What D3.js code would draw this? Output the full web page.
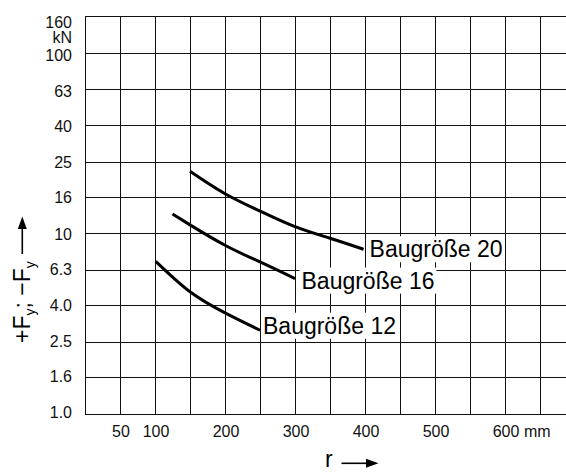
<!DOCTYPE html>
<html lang="de">
<head>
<meta charset="utf-8" />
<title>Baugröße</title>
<script src="https://d3js.org/d3.v7.min.js"></script>
<style>
  body { margin: 0; background: #fff; }
  svg { display: block; font-family: "Liberation Sans", Arial, sans-serif; }
  .grid line { stroke: #111; stroke-width: 1.3; shape-rendering: crispEdges; }
  .tick-label { font-size: 16px; fill: #111; }
  .curve { fill: none; stroke: #000; stroke-width: 3; }
  .size-label { font-size: 23px; fill: #000; }
</style>
</head>
<body>
<svg id="chart" width="566" height="474"></svg>
<script>
// grid and tick values
var xGridValues = d3.range(0, 701, 50);
var xTickLabels = [50, 100, 200, 300, 400, 500, 600];
var yTickValues = [1.0, 1.6, 2.5, 4.0, 6.3, 10, 16, 25, 40, 63, 100, 160];
var yTickLabels = ["1.0", "1.6", "2.5", "4.0", "6.3", "10", "16", "25", "40", "63", "100", "160"];

// curves: r in mm, force in kN
var sizeNames = ["Baugröße 12", "Baugröße 16", "Baugröße 20"];
var r12 = [101, 150, 200, 250];
var f12 = [7.0, 4.75, 3.63, 2.91];
var r16 = [125, 150, 200, 250, 300];
var f16 = [12.8, 11.15, 8.6, 6.95, 5.62];
var r20 = [150, 200, 250, 300, 350, 398];
var f20 = [22.1, 16.6, 13.3, 10.9, 9.4, 8.17];

var svg = d3.select("#chart");

var x = d3.scaleLinear().domain([0, 700]).range([85, 575]);
var y = d3.scaleLog().domain([1, 160]).range([414, 16]);
// labels on the y axis sit on a slightly tighter spacing than the grid
var yLab = d3.scaleLog().domain([1, 100]).range([418.3, 60.7]);

// grid
var grid = svg.append("g").attr("class", "grid");
grid.selectAll("line.v")
  .data(xGridValues)
  .enter().append("line")
  .attr("x1", function(d) { return Math.round(x(d)) + 0.5; })
  .attr("x2", function(d) { return Math.round(x(d)) + 0.5; })
  .attr("y1", y(160))
  .attr("y2", y(1));
grid.selectAll("line.h")
  .data(yTickValues)
  .enter().append("line")
  .attr("x1", x(0))
  .attr("x2", x(700))
  .attr("y1", function(d) { return Math.round(y(d)) + 0.5; })
  .attr("y2", function(d) { return Math.round(y(d)) + 0.5; });

// y tick labels
svg.append("g").selectAll("text")
  .data(yTickValues)
  .enter().append("text")
  .attr("class", "tick-label")
  .attr("text-anchor", "end")
  .attr("x", 72)
  .attr("y", function(d) { return d === 160 ? 27.8 : yLab(d); })
  .text(function(d, i) { return yTickLabels[i]; });
svg.append("text")
  .attr("class", "tick-label")
  .attr("text-anchor", "end")
  .attr("x", 72)
  .attr("y", 43)
  .text("kN");

// x tick labels
svg.append("g").selectAll("text")
  .data(xTickLabels)
  .enter().append("text")
  .attr("class", "tick-label")
  .attr("text-anchor", "middle")
  .attr("x", function(d) { return x(d) + 1; })
  .attr("y", 436.7)
  .text(function(d) { return d; });
svg.append("text")
  .attr("class", "tick-label")
  .attr("x", x(600) + 19)
  .attr("y", 436.7)
  .text("mm");

// curves
var series = [
  { name: sizeNames[0], r: r12, f: f12, dx: 3, dy: 3.5 },
  { name: sizeNames[1], r: r16, f: f16, dx: 6.5, dy: 10 },
  { name: sizeNames[2], r: r20, f: f20, dx: 6, dy: 8 }
];

var line = d3.line()
  .x(function(d) { return x(d[0]); })
  .y(function(d) { return y(d[1]); })
  .curve(d3.curveNatural);

series.forEach(function(s) {
  var pts = s.r.map(function(r, i) { return [r, s.f[i]]; });
  svg.append("path")
    .attr("class", "curve")
    .attr("d", line(pts));
});

// labels with white boxes
series.forEach(function(s) {
  var last = s.r.length - 1;
  var lx = x(s.r[last]) + s.dx;
  var ly = y(s.f[last]) + s.dy;
  var g = svg.append("g");
  var box = g.append("rect").attr("fill", "#fff");
  var t = g.append("text")
    .attr("class", "size-label")
    .attr("x", lx)
    .attr("y", ly)
    .text(s.name);
  var bb = t.node().getBBox();
  box.attr("x", bb.x - 2)
    .attr("y", ly - 21)
    .attr("width", bb.width + 4)
    .attr("height", 26);
});

// y axis title
var yt = svg.append("text")
  .attr("transform", "translate(30,343) rotate(-90)")
  .attr("font-size", 23)
  .attr("fill", "#000");
yt.append("tspan").text("+F");
yt.append("tspan").attr("font-size", 14).attr("dy", 5).text("y");
yt.append("tspan").attr("dy", -5).text("; \u2212F");
yt.append("tspan").attr("font-size", 14).attr("dy", 5).text("y");

svg.append("line")
  .attr("x1", 22.3).attr("x2", 22.3)
  .attr("y1", 254).attr("y2", 228)
  .attr("stroke", "#000").attr("stroke-width", 1.6);
svg.append("path")
  .attr("d", "M22.3,216.5 L17.8,229 L26.8,229 Z")
  .attr("fill", "#000");

// x axis title
svg.append("text")
  .attr("x", 325)
  .attr("y", 466.7)
  .attr("font-size", 23)
  .attr("fill", "#000")
  .text("r");
svg.append("line")
  .attr("x1", 341.5).attr("x2", 367)
  .attr("y1", 463.3).attr("y2", 463.3)
  .attr("stroke", "#000").attr("stroke-width", 1.6);
svg.append("path")
  .attr("d", "M378.5,463.3 L366,458.8 L366,467.8 Z")
  .attr("fill", "#000");
</script>
</body>
</html>
